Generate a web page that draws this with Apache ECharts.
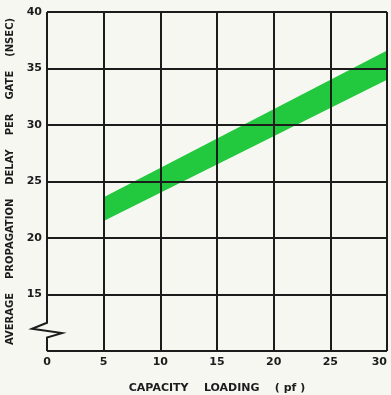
<!DOCTYPE html>
<html>
<head>
<meta charset="utf-8">
<style>
  html, body { margin: 0; padding: 0; background: #f7f7f2; }
  #chart { width: 391px; height: 395px; }
</style>
<script src="https://cdn.jsdelivr.net/npm/echarts@6/dist/echarts.min.js"></script>
</head>
<body>
<div id="chart"></div>
<script>
// Capacity loading (pF) at the ends of the delay band
const capacity = [5, 30];
// Lower and upper edges of the propagation-delay band (nsec)
const delayLow = [21.5, 34.0];
const delayHigh = [23.6, 36.6];
// Grid positions
const xTicks = [5, 10, 15, 20, 25, 30];
const yTicks = [10, 15, 20, 25, 30, 35, 40];
// Value where the delay axis is broken
const axisBreak = [12.5, 11.2];

const ink = '#1c1c1c';
const font = 'DejaVu Sans';

const chart = echarts.init(document.getElementById('chart'));

const gridLines = xTicks.map(v => ({ xAxis: v })).concat(yTicks.map(v => ({ yAxis: v })));

// Band outline: along the upper edge, then back along the lower edge
function renderBand(params, api) {
  const pts = [];
  capacity.forEach((c, i) => pts.push(api.coord([c, delayHigh[i]])));
  for (let i = capacity.length - 1; i >= 0; i--) pts.push(api.coord([capacity[i], delayLow[i]]));
  return {
    type: 'polygon',
    shape: { points: pts },
    style: { fill: '#22c83e', stroke: null }
  };
}

chart.setOption({
  backgroundColor: '#f7f7f2',
  animation: false,
  grid: { left: 47, right: 4, top: 12, bottom: 44, outerBoundsMode: 'none', containLabel: false },
  xAxis: {
    type: 'value', min: 0, max: 30, interval: 5,
    axisLine: { show: false }, axisTick: { show: false }, splitLine: { show: false },
    axisLabel: {
      color: ink, fontFamily: font, fontWeight: 'bold', fontSize: 11, margin: 6,
      alignMaxLabel: 'right'
    },
    name: 'CAPACITY    LOADING    ( pf )',
    nameLocation: 'middle', nameGap: 32,
    nameTextStyle: { color: ink, fontFamily: font, fontWeight: 'bold', fontSize: 11 }
  },
  yAxis: {
    type: 'value', min: 10, max: 40, interval: 5,
    axisLine: { show: false }, axisTick: { show: false }, splitLine: { show: false },
    axisLabel: {
      color: ink, fontFamily: font, fontWeight: 'bold', fontSize: 11, margin: 5,
      formatter: v => (v === 10 ? '' : String(v))
    },
    name: 'AVERAGE    PROPAGATION    DELAY    PER    GATE    (NSEC)',
    nameLocation: 'middle', nameGap: 32,
    nameTextStyle: { color: ink, fontFamily: font, fontWeight: 'bold', fontSize: 10 }
  },
  series: [
    {
      name: 'band', type: 'custom', z: 2, silent: true, clip: true,
      renderItem: renderBand,
      data: [[capacity[0], delayLow[0]]]
    },
    {
      name: 'grid', type: 'line', z: 5, silent: true,
      data: capacity.map((c, i) => [c, delayLow[i]]),
      symbol: 'none', lineStyle: { width: 0, opacity: 0 },
      markLine: {
        silent: true, symbol: 'none', label: { show: false },
        lineStyle: { color: ink, width: 2, type: 'solid' },
        data: gridLines
      }
    }
  ]
});

// Delay axis drawn with a break mark near its foot
function drawAxis() {
  const top = chart.convertToPixel({ gridIndex: 0 }, [0, 40]);
  const b1 = chart.convertToPixel({ gridIndex: 0 }, [0, axisBreak[0]]);
  const b2 = chart.convertToPixel({ gridIndex: 0 }, [0, axisBreak[1]]);
  const foot = chart.convertToPixel({ gridIndex: 0 }, [0, 10]);
  const mid = (b1[1] + b2[1]) / 2;
  chart.setOption({
    graphic: [{
      type: 'polyline', z: 10, silent: true,
      shape: {
        points: [
          top, b1,
          [b1[0] - 15, b1[1] + 6],
          [b1[0] + 15, mid + 3],
          b2, foot
        ]
      },
      style: { stroke: ink, lineWidth: 2, fill: null }
    }]
  });
}
drawAxis();
</script>
</body>
</html>
